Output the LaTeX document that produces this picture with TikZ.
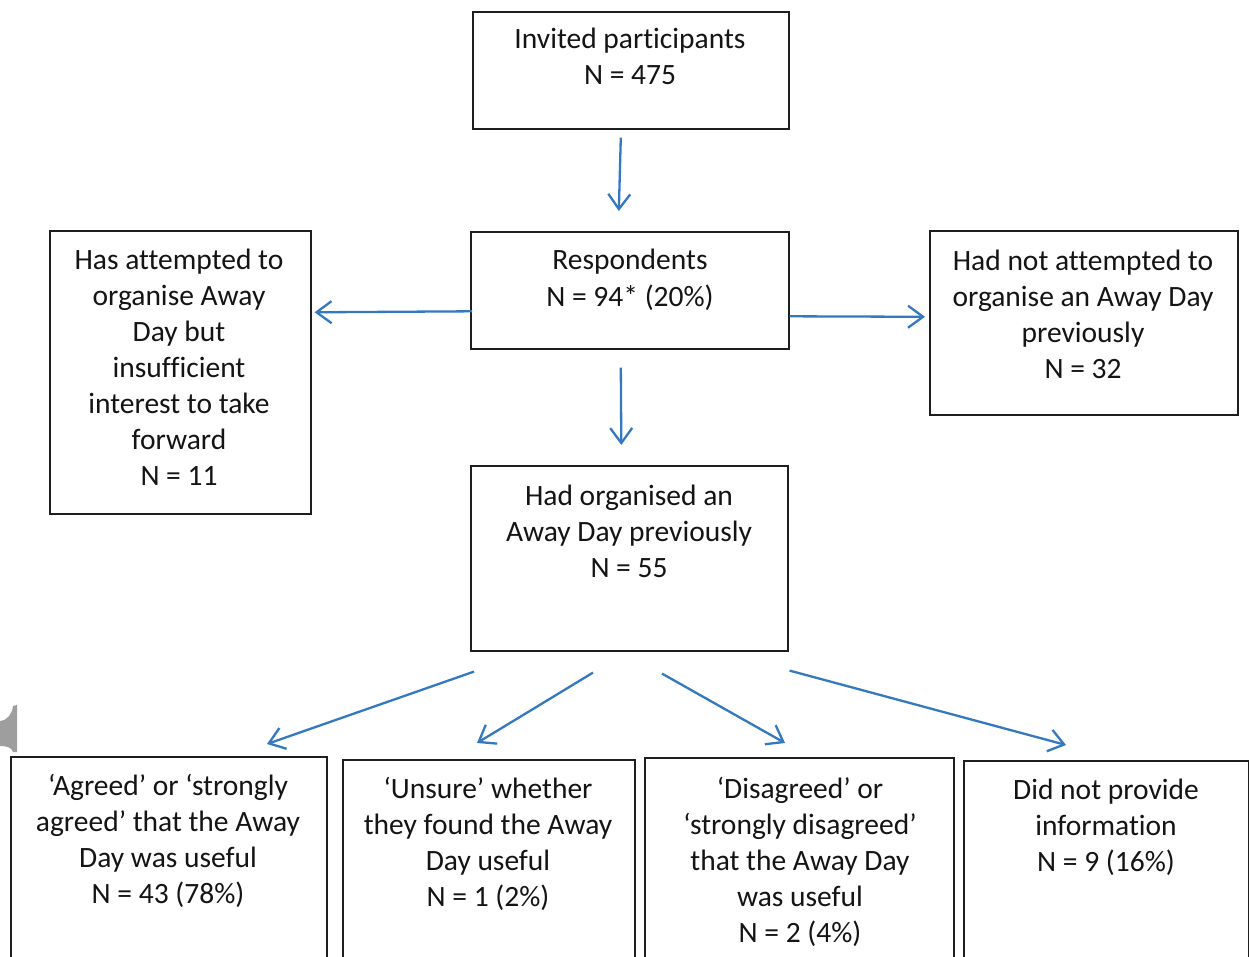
\documentclass[tikz,border=0pt]{standalone}
\usepackage{fontspec}
\setmainfont[RawFeature={-liga;-clig;-calt;-dlig}]{Carlito}
\usetikzlibrary{arrows.meta,calc}
\definecolor{arrblue}{HTML}{3479C0}
\definecolor{boxline}{HTML}{1E1E1E}
\tikzset{
  box/.style={draw=boxline, line width=1.6pt, rectangle, inner sep=0pt},
  txt/.style={align=center, inner sep=0pt, font=\fontsize{29.5}{36}\selectfont, text=black!92},
  arr/.style={draw=arrblue, line width=2.3pt, -{Straight Barb[length=15pt,width=22pt]}},
}
\newcommand{\boxat}[5]{% name, x1, y1, x2, y2
  \node[box, anchor=north west, minimum width={#4-#2}, minimum height={#5-#3}] (#1) at (#2,#3) {};}
\begin{document}
\begin{tikzpicture}[x=1pt,y=-1pt]
\useasboundingbox (0,0) rectangle (1249,957);
\clip (0,0) rectangle (1249,957);
\fill[white] (0,0) rectangle (1249,957);
% boxes
\boxat{inv}{472}{11}{788}{128}
\boxat{resp}{470}{231}{788}{348}
\boxat{left}{49}{230}{310}{513}
\boxat{right}{929}{230}{1237}{414}
\boxat{had}{470}{465}{787}{650}
\boxat{bA}{10}{756}{326}{990}
\boxat{bB}{342}{759}{634}{990}
\boxat{bC}{644}{757}{953}{990}
\boxat{bD}{963}{760}{1248}{990}
% texts (anchored at the baseline of their last line)
\node[txt, anchor=base] (inv-t) at (630,85) {Invited participants\\N = 475};
\node[txt, anchor=base] (resp-t) at (630,306) {Respondents\\N = 94* (20\%)};
\node[txt, anchor=base] (left-t) at (179,485) {Has attempted to\\organise Away\\Day but\\insufficient\\interest to take\\forward\\N = 11};
\node[txt, anchor=base] (right-t) at (1083,378) {Had not attempted to\\organise an Away Day\\previously\\N = 32};
\node[txt, anchor=base] (had-t) at (629,577) {Had organised an\\Away Day previously\\N = 55};
\node[txt, anchor=base] (bA-t) at (168,903) {‘Agreed’ or ‘strongly\\agreed’ that the Away\\Day was useful\\N = 43 (78\%)};
\node[txt, anchor=base] (bB-t) at (488,906) {‘Unsure’ whether\\they found the Away\\Day useful\\N = 1 (2\%)};
\node[txt, anchor=base] (bC-t) at (800,942) {‘Disagreed’ or\\‘strongly disagreed’\\that the Away Day\\was useful\\N = 2 (4\%)};
\node[txt, anchor=base] (bD-t) at (1106,871) {Did not provide\\information\\N = 9 (16\%)};
% arrows
\draw[arr] ($(inv.south)+(-10,8)$) -- ($(resp.north)+(-11,-20)$);
\draw[arr] ($(resp.west)+(2,21)$) -- ($(left.east)+(3,-60)$);
\draw[arr] ($(resp.east)+(0,26)$) -- ($(right.west)+(-4,-6)$);
\draw[arr] ($(resp.south)+(-9,18)$) -- ($(had.north)+(-8,-20)$);
\draw[arr] ($(had.south west)+(4,20)$) -- ($(bA.north west)+(257,-12)$);
\draw[arr] ($(had.south west)+(123,21)$) -- ($(bB.north west)+(135,-16)$);
\draw[arr] ($(had.south west)+(192,22)$) -- ($(bC.north west)+(141,-14)$);
\draw[arr] ($(had.south east)+(1,19)$) -- ($(bD.north west)+(103,-15)$);
% grey page artefact at left edge
\fill[black!38] (0,721) .. controls (8,720) and (12,714) .. (13,706) -- (17,705) -- (17,752) -- (13,752) .. controls (12,748) and (8,746) .. (0,746) -- cycle;
\end{tikzpicture}
\end{document}
